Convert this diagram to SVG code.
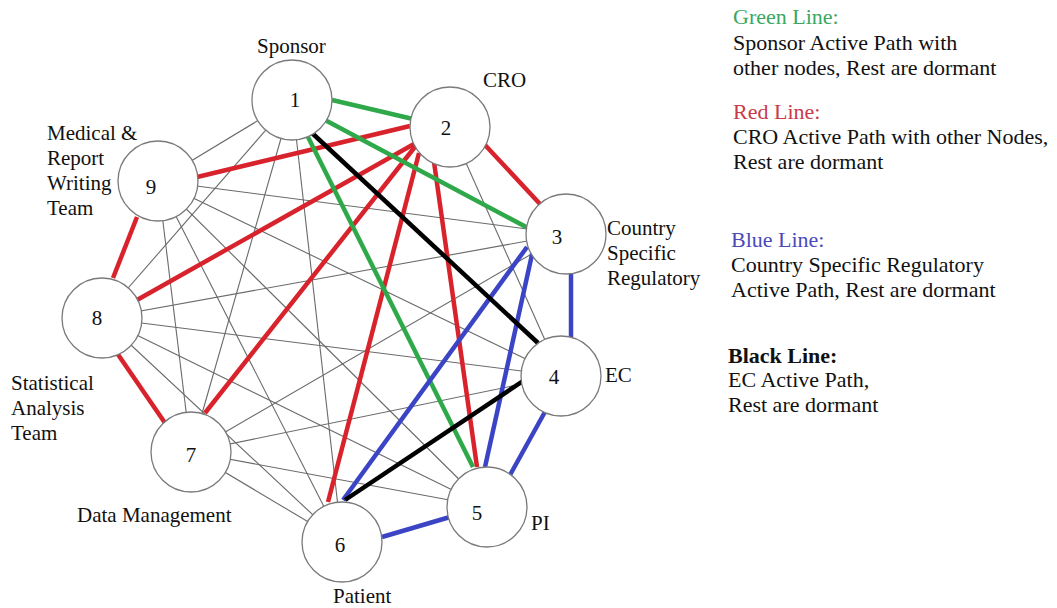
<svg xmlns="http://www.w3.org/2000/svg" width="1057" height="608" viewBox="0 0 1057 608">
<style>
.g{stroke:#6a6a6a;stroke-width:1.1;fill:none}
.c{stroke-width:4.5;fill:none;stroke-linecap:butt}
.gr{stroke:#2fa84a}.rd{stroke:#d8232c}.bl{stroke:#3b44c4}.bk{stroke:#000}
.n{fill:#fff;stroke:#7a7a7a;stroke-width:1.3}
.t{fill:#111}
.lb{font-size:21px}
.num{font-size:21px;text-anchor:middle}
.lg{font-size:22px}
</style>
<rect width="1057" height="608" fill="#fff"/>
<g id="connectors">
<g id="dormant">
<line class="g" x1="292" y1="100" x2="342" y2="542"/>
<line class="g" x1="292" y1="100" x2="191" y2="452"/>
<line class="g" x1="292" y1="100" x2="102" y2="318"/>
<line class="g" x1="292" y1="100" x2="158" y2="181"/>
<line class="g" x1="450" y1="127" x2="561" y2="376"/>
<line class="g" x1="566" y1="234" x2="191" y2="452"/>
<line class="g" x1="566" y1="234" x2="102" y2="318"/>
<line class="g" x1="566" y1="234" x2="158" y2="181"/>
<line class="g" x1="561" y1="376" x2="191" y2="452"/>
<line class="g" x1="561" y1="376" x2="102" y2="318"/>
<line class="g" x1="561" y1="376" x2="158" y2="181"/>
<line class="g" x1="487" y1="507" x2="191" y2="452"/>
<line class="g" x1="487" y1="507" x2="102" y2="318"/>
<line class="g" x1="487" y1="507" x2="158" y2="181"/>
<line class="g" x1="342" y1="542" x2="191" y2="452"/>
<line class="g" x1="342" y1="542" x2="102" y2="318"/>
<line class="g" x1="342" y1="542" x2="158" y2="181"/>
<line class="g" x1="191" y1="452" x2="158" y2="181"/>
</g>
<g id="red">
<line class="c rd" x1="485" y1="145" x2="540" y2="204"/>
<line class="c rd" x1="193" y1="178" x2="410" y2="126"/>
<line class="c rd" x1="137" y1="300" x2="414" y2="144"/>
<line class="c rd" x1="205" y1="413" x2="418" y2="143"/>
<line class="c rd" x1="328" y1="502" x2="419" y2="153"/>
<line class="c rd" x1="434" y1="162" x2="477" y2="467"/>
<line class="c rd" x1="137" y1="217" x2="113" y2="278"/>
<line class="c rd" x1="117" y1="353" x2="165" y2="423"/>
</g>
<g id="green">
<line class="c gr" x1="332" y1="100" x2="413" y2="119"/>
<line class="c gr" x1="325" y1="120" x2="528" y2="228"/>
<line class="c gr" x1="308" y1="137" x2="473" y2="467"/>
</g>
<g id="blue">
<line class="c bl" x1="571" y1="272" x2="571" y2="337"/>
<line class="c bl" x1="527" y1="247" x2="343" y2="500"/>
<line class="c bl" x1="533" y1="250" x2="485" y2="467"/>
<line class="c bl" x1="546" y1="410" x2="510" y2="475"/>
<line class="c bl" x1="450" y1="517" x2="382" y2="537"/>
</g>
<g id="black">
<line class="c bk" x1="312" y1="133" x2="538" y2="343"/>
<line class="c bk" x1="526" y1="379" x2="345" y2="500"/>
</g>
</g>
<g font-family="'Liberation Serif', Tinos, 'Times New Roman', Times, 'Noto Serif', 'DejaVu Serif', FreeSerif, serif">
<g id="node1"><circle class="n" cx="292" cy="100" r="40"/><text class="t num" x="295" y="107">1</text><text class="t lb" x="257" y="53">Sponsor</text></g>
<g id="node2"><circle class="n" cx="450" cy="127" r="40"/><text class="t num" x="446" y="135">2</text><text class="t lb" x="483" y="87">CRO</text></g>
<g id="node3"><circle class="n" cx="566" cy="234" r="40"/><text class="t num" x="557" y="244">3</text><text class="t lb" x="607" y="235">Country</text><text class="t lb" x="607" y="260">Specific</text><text class="t lb" x="607" y="285">Regulatory</text></g>
<g id="node4"><circle class="n" cx="561" cy="376" r="40"/><text class="t num" x="554" y="384">4</text><text class="t lb" x="605" y="382">EC</text></g>
<g id="node5"><circle class="n" cx="487" cy="507" r="40"/><text class="t num" x="477" y="520">5</text><text class="t lb" x="531" y="530">PI</text></g>
<g id="node6"><circle class="n" cx="342" cy="542" r="40"/><text class="t num" x="340" y="552">6</text><text class="t lb" x="333" y="603">Patient</text></g>
<g id="node7"><circle class="n" cx="191" cy="452" r="40"/><text class="t num" x="191" y="462">7</text><text class="t lb" x="77" y="522">Data Management</text></g>
<g id="node8"><circle class="n" cx="102" cy="318" r="40"/><text class="t num" x="97" y="325">8</text><text class="t lb" x="11" y="390">Statistical</text><text class="t lb" x="11" y="415">Analysis</text><text class="t lb" x="11" y="440">Team</text></g>
<g id="node9"><circle class="n" cx="158" cy="181" r="40"/><text class="t num" x="151" y="194">9</text><text class="t lb" x="47" y="140">Medical &amp;</text><text class="t lb" x="47" y="165">Report</text><text class="t lb" x="47" y="190">Writing</text><text class="t lb" x="47" y="215">Team</text></g>
<g id="legend">
<text class="t lg" x="733" y="24" style="fill:#3aa860">Green Line:</text>
<text class="t lg" x="733" y="50">Sponsor Active Path with</text>
<text class="t lg" x="733" y="75">other nodes, Rest are dormant</text>
<text class="t lg" x="733" y="119" style="fill:#c83a48">Red Line:</text>
<text class="t lg" x="733" y="144">CRO Active Path with other Nodes,</text>
<text class="t lg" x="733" y="169">Rest are dormant</text>
<text class="t lg" x="731" y="247" style="fill:#4a4ab8">Blue Line:</text>
<text class="t lg" x="731" y="272">Country Specific Regulatory</text>
<text class="t lg" x="731" y="297">Active Path, Rest are dormant</text>
<text class="t lg" x="728" y="363" font-weight="bold">Black Line:</text>
<text class="t lg" x="728" y="387">EC Active Path,</text>
<text class="t lg" x="728" y="412">Rest are dormant</text>
</g>
</g>
</svg>
